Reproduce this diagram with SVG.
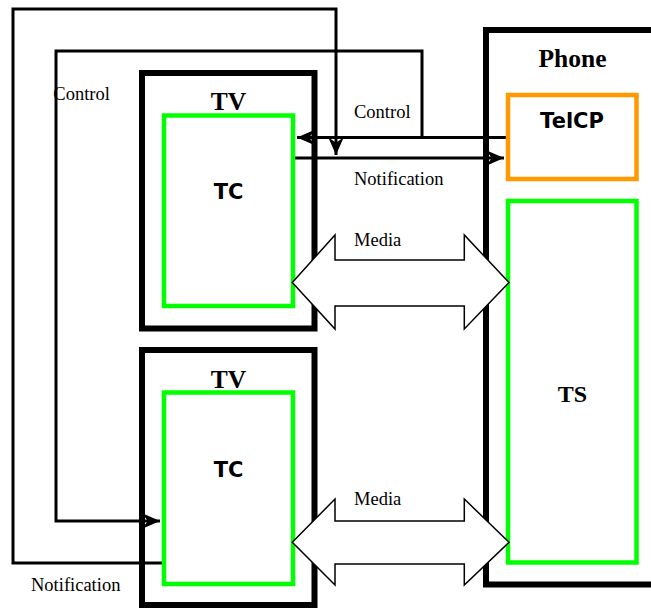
<svg xmlns="http://www.w3.org/2000/svg" width="651" height="608" viewBox="0 0 651 608">
<defs>
<style>
.box{fill:none;stroke:#000;stroke-width:6}
.green{fill:none;stroke:#00FF00;stroke-width:4.5}
.orange{fill:none;stroke:#FF9900;stroke-width:4.5}
.conn{fill:none;stroke:#000;stroke-width:3}
.media{fill:#fff;stroke:#000;stroke-width:1.5;stroke-linejoin:miter}
.serifB{font-family:"Liberation Serif","Times New Roman",serif;font-weight:bold;text-anchor:middle}
.sansB{font-family:"DejaVu Sans",Verdana,sans-serif;font-weight:bold;text-anchor:middle}
.lbl{font-family:"Liberation Serif","Times New Roman",serif;font-size:18.5px}
</style>
<marker id="arr" markerUnits="userSpaceOnUse" markerWidth="20" markerHeight="20" viewBox="-17 -8 18 16" refX="0" refY="0" orient="auto">
<path d="M0,0 L-16,-7 L-11,0 L-16,7 Z" fill="#000"/>
</marker>
</defs>
<g id="connectors">
<polyline class="conn" points="162,563 13,563 13,9 336,9 336,155" marker-end="url(#arr)"/>
<polyline class="conn" points="506,137.5 422,137.5 422,51 56,51 56,521 160,521" marker-end="url(#arr)"/>
<line class="conn" x1="422" y1="137.5" x2="297" y2="137.5" marker-end="url(#arr)"/>
<line class="conn" x1="293" y1="158" x2="504" y2="158" marker-end="url(#arr)"/>
</g>
<g id="tv1">
<rect class="box" x="142" y="73" width="172.5" height="255.5"/>
<text class="serifB" x="228.5" y="110" font-size="25.5">TV</text>
</g>
<g id="tc1">
<rect class="green" x="164" y="115.5" width="129" height="190.5"/>
<text class="sansB" x="228.5" y="198.5" font-size="21">TC</text>
</g>
<g id="tv2">
<rect class="box" x="142" y="350" width="172.5" height="255"/>
<text class="serifB" x="228.5" y="387.7" font-size="25.5">TV</text>
</g>
<g id="tc2">
<rect class="green" x="164" y="392.5" width="129" height="191.5"/>
<text class="sansB" x="228.5" y="476.7" font-size="21">TC</text>
</g>
<g id="phone">
<rect class="box" x="486" y="30" width="180" height="554.5"/>
<text class="serifB" x="572.5" y="66.5" font-size="25.5">Phone</text>
</g>
<g id="telcp">
<rect class="orange" x="508" y="95" width="128.5" height="84"/>
<text class="sansB" x="572" y="128.3" font-size="21">TelCP</text>
</g>
<g id="ts">
<rect class="green" x="508" y="201" width="128.5" height="361.5"/>
<text class="serifB" x="572.5" y="401.5" font-size="24">TS</text>
</g>
<g id="media1">
<polygon class="media" points="292.3,282.5 335,235 335,260 464.3,260 464.3,235 509,282.5 464.3,329 464.3,306 335,306 335,329"/>
</g>
<g id="media2">
<polygon class="media" points="292.3,542.3 335,499 335,521 464.3,521 464.3,499 509,542.3 464.3,585 464.3,564 335,564 335,585"/>
</g>
<g id="labels">
<text class="lbl" x="53.3" y="100">Control</text>
<text class="lbl" x="354" y="118.3">Control</text>
<text class="lbl" x="354" y="185">Notification</text>
<text class="lbl" x="354" y="245.7">Media</text>
<text class="lbl" x="354" y="505">Media</text>
<text class="lbl" x="31" y="591">Notification</text>
</g>
</svg>
